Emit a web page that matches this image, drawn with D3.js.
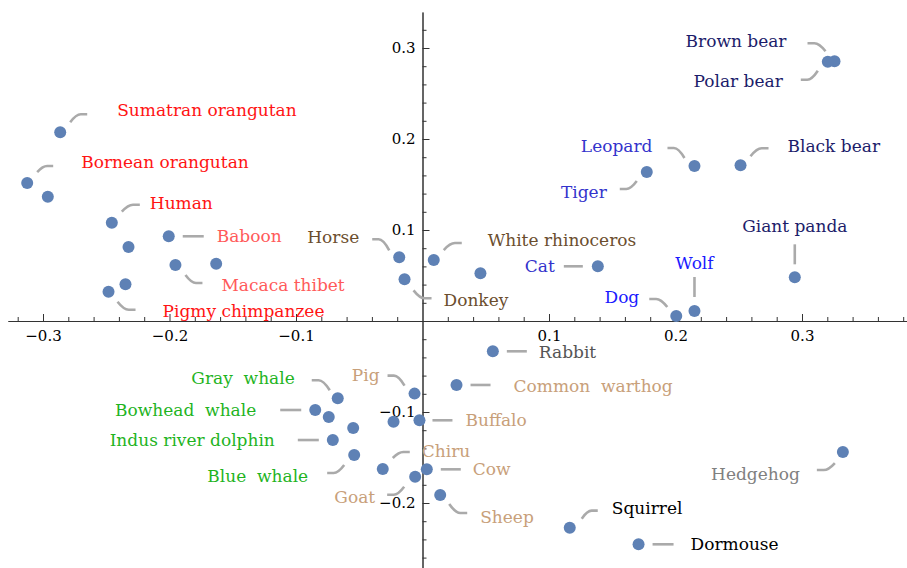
<!DOCTYPE html>
<html>
<head>
<meta charset="utf-8">
<script src="https://cdn.jsdelivr.net/npm/d3@7"></script>
<style>
  html, body { margin: 0; padding: 0; background: #fff; }
  svg { display: block; }
  .tick text { font-family: "DejaVu Serif", serif; font-size: 15px; fill: #000; }
  .callout { font-family: "DejaVu Serif", serif; font-size: 17px; }
</style>
</head>
<body>
<svg id="chart" width="907" height="568"></svg>
<script>
// Species names (empty string = point drawn without a callout)
const names = [
  "Sumatran orangutan", "Bornean orangutan", "", "Human", "",
  "Baboon", "Macaca thibet", "", "", "Pigmy chimpanzee",
  "Horse", "Donkey", "White rhinoceros", "", "Cat",
  "Tiger", "Leopard", "Black bear", "Brown bear", "Polar bear",
  "Giant panda", "Wolf", "Dog", "Rabbit", "Common  warthog",
  "Pig", "Buffalo", "", "Gray  whale", "Bowhead  whale",
  "", "", "Indus river dolphin", "Blue  whale", "Chiru",
  "Goat", "Cow", "Sheep", "Squirrel", "Dormouse", "Hedgehog"
];
// First coordinate
const xValues = [
  -0.2864, -0.3125, -0.2962, -0.2456, -0.2324,
  -0.2006, -0.1953, -0.1631, -0.2348, -0.2482,
  -0.0184, -0.0142, 0.0089, 0.0458, 0.1386,
  0.1773, 0.2150, 0.2514, 0.3257, 0.3204,
  0.2943, 0.2150, 0.2006, 0.0556, 0.0269,
  -0.0063, -0.0024, -0.0229, -0.0670, -0.0848,
  -0.0741, -0.0548, -0.0709, -0.0540, -0.0314,
  -0.0058, 0.0034, 0.0140, 0.1164, 0.1708, 0.3323
];
// Second coordinate
const yValues = [
  0.2074, 0.1516, 0.1366, 0.1080, 0.0813,
  0.0931, 0.0615, 0.0630, 0.0403, 0.0322,
  0.0700, 0.0458, 0.0670, 0.0524, 0.0601,
  0.1637, 0.1703, 0.1711, 0.2854, 0.2849,
  0.0480, 0.0110, 0.0055, -0.0333, -0.0703,
  -0.0798, -0.1091, -0.1107, -0.0849, -0.0978,
  -0.1055, -0.1176, -0.1308, -0.1473, -0.1626,
  -0.1711, -0.1630, -0.1912, -0.2271, -0.2454, -0.1440
];
// Group of each species (sets label colour)
const groups = [
  "ape", "ape", "ape", "ape", "ape",
  "monkey", "monkey", "monkey", "ape", "ape",
  "perisso", "perisso", "perisso", "perisso", "felid",
  "felid", "felid", "bear", "bear", "bear",
  "bear", "canid", "canid", "rabbit", "artio",
  "artio", "artio", "artio", "cetacean", "cetacean",
  "cetacean", "cetacean", "cetacean", "cetacean", "artio",
  "artio", "artio", "artio", "rodent", "rodent", "hedgehog"
];
const xTicks = [-0.3, -0.2, -0.1, 0.1, 0.2, 0.3];
const yTicks = [-0.2, -0.1, 0.1, 0.2, 0.3];

const groupColors = {
  ape: "#ff1414", monkey: "#ff5a5a", perisso: "#6b4e2e", felid: "#3333cc",
  canid: "#1a1aff", bear: "#1c1c6a", cetacean: "#1fb41f", artio: "#c8a07a",
  rabbit: "#555555", rodent: "#000000", hedgehog: "#808080"
};

// Callout placement in pixels relative to the point:
// [leader start dx, dy, leader end dx, dy, text dx, dy, anchor]
const calloutLayout = {
  "Sumatran orangutan": [10, -10, 27, -18, 57, -22, "start"],
  "Bornean orangutan": [10, -11, 26, -17, 54, -21, "start"],
  "Human": [10, -11, 28, -18, 38, -20, "start"],
  "Baboon": [14, 0, 35, 0, 48, 0, "start"],
  "Macaca thibet": [10, 10, 27, 18, 46, 20, "start"],
  "Pigmy chimpanzee": [9, 10, 27, 18, 54, 19, "start"],
  "Horse": [-10, -7, -27, -18, -40, -20, "end"],
  "White rhinoceros": [10, -10, 28, -17, 54, -20, "start"],
  "Donkey": [9, 11, 27, 19, 39, 21, "start"],
  "Cat": [-15, 0, -34, 0, -43, 0, "end"],
  "Leopard": [-10, -8, -27, -18, -42, -20, "end"],
  "Tiger": [-10, 9, -27, 17, -40, 20, "end"],
  "Black bear": [10, -9, 28, -17, 47, -19, "start"],
  "Brown bear": [-9, -10, -27, -18, -48, -20, "end"],
  "Polar bear": [-10, 9, -27, 18, -45, 19, "end"],
  "Giant panda": [0, -13, 0, -33, 0, -51, "middle"],
  "Wolf": [0, -14, 0, -34, 0, -48, "middle"],
  "Dog": [-9, -9, -27, -17, -37, -19, "end"],
  "Rabbit": [14, 0, 34, 0, 46, 1, "start"],
  "Common  warthog": [14, 0, 34, 0, 57, 1, "start"],
  "Pig": [-10, -8, -27, -18, -35, -19, "end"],
  "Buffalo": [13, 0, 33, 0, 46, 0, "start"],
  "Chiru": [10, -11, 27, -17, 39, -18, "start"],
  "Cow": [14, 0, 34, 0, 46, 0, "start"],
  "Goat": [-11, 10, -28, 18, -40, 20, "end"],
  "Sheep": [9, 9, 27, 18, 40, 22, "start"],
  "Squirrel": [12, -9, 28, -17, 42, -20, "start"],
  "Dormouse": [14, 0, 35, 0, 52, 0, "start"],
  "Hedgehog": [-8, 11, -26, 18, -43, 22, "end"],
  "Gray  whale": [-8, -8, -26, -18, -43, -20, "end"],
  "Bowhead  whale": [-14, 0, -35, 0, -59, 0, "end"],
  "Indus river dolphin": [-14, 0, -35, 0, -58, 0, "end"],
  "Blue  whale": [-10, 10, -27, 18, -46, 21, "end"]
};

const svg = d3.select("#chart");

const x = d3.scaleLinear().domain([-0.3, 0.3]).range([43, 802]);
const y = d3.scaleLinear().domain([-0.2, 0.3]).range([503, 48]);

const xMin = x.invert(8), xMax = x.invert(907);
const yMin = y.invert(568), yMax = y.invert(12);

const fmt = d3.format(".1f");

// Minor ticks every 0.02
const notMajor = v => Math.abs(v * 10 - Math.round(v * 10)) > 1e-6;
const xMinor = d3.range(Math.ceil(xMin / 0.02), Math.floor(xMax / 0.02) + 1)
  .map(i => +(i * 0.02).toFixed(2)).filter(notMajor);
const yMinor = d3.range(Math.ceil(yMin / 0.02), Math.floor(yMax / 0.02) + 1)
  .map(i => +(i * 0.02).toFixed(2)).filter(notMajor);

const xAxisScale = x.copy().domain([xMin, xMax]).range([x(xMin), x(xMax)]);
const yAxisScale = y.copy().domain([yMin, yMax]).range([y(yMin), y(yMax)]);

const axisColor = "#333";

// Horizontal axis
const gx = svg.append("g").attr("transform", `translate(0,${y(0)})`);
gx.append("g").call(d3.axisBottom(xAxisScale).tickValues(xMinor).tickSizeInner(-4).tickSizeOuter(0).tickFormat(""))
  .call(g => g.selectAll("text").remove());
gx.append("g").call(d3.axisBottom(xAxisScale).tickValues(xTicks).tickSizeInner(-7).tickSizeOuter(0).tickPadding(9).tickFormat(fmt));
gx.selectAll("path.domain, line").attr("stroke", axisColor).attr("stroke-width", 1);

// Vertical axis
const gy = svg.append("g").attr("transform", `translate(${x(0)},0)`);
gy.append("g").call(d3.axisLeft(yAxisScale).tickValues(yMinor).tickSizeInner(-4).tickSizeOuter(0).tickFormat(""))
  .call(g => g.selectAll("text").remove());
gy.append("g").call(d3.axisLeft(yAxisScale).tickValues(yTicks).tickSizeInner(-7).tickSizeOuter(0).tickPadding(7).tickFormat(fmt));
gy.selectAll("path.domain, line").attr("stroke", axisColor).attr("stroke-width", 1);

const data = names.map((n, i) => ({ name: n, x: xValues[i], y: yValues[i], group: groups[i] }));

// Leader lines: a bend near the point that straightens out towards the label
function leaderPath(d) {
  const L = calloutLayout[d.name];
  const px = x(d.x), py = y(d.y);
  const x1 = px + L[0], y1 = py + L[1], x2 = px + L[2], y2 = py + L[3];
  if (x1 === x2 || y1 === y2) return `M${x1},${y1}L${x2},${y2}`;
  const dx = x2 - x1;
  return `M${x1},${y1}Q${x1 + 0.35 * dx},${y2} ${x1 + 0.62 * dx},${y2}L${x2},${y2}`;
}

const labelled = data.filter(d => d.name && calloutLayout[d.name]);

svg.append("g").selectAll("path").data(labelled).join("path")
  .attr("d", leaderPath)
  .attr("fill", "none")
  .attr("stroke", "#aaaaaa")
  .attr("stroke-width", 2.6);

svg.append("g").selectAll("circle").data(data).join("circle")
  .attr("cx", d => x(d.x))
  .attr("cy", d => y(d.y))
  .attr("r", 6)
  .attr("fill", "#5e81b5");

svg.append("g").selectAll("text").data(labelled).join("text")
  .attr("class", "callout")
  .attr("x", d => x(d.x) + calloutLayout[d.name][4])
  .attr("y", d => y(d.y) + calloutLayout[d.name][5])
  .attr("dy", "0.35em")
  .attr("text-anchor", d => calloutLayout[d.name][6])
  .attr("fill", d => groupColors[d.group])
  .style("white-space", "pre")
  .text(d => d.name);
</script>
</body>
</html>
